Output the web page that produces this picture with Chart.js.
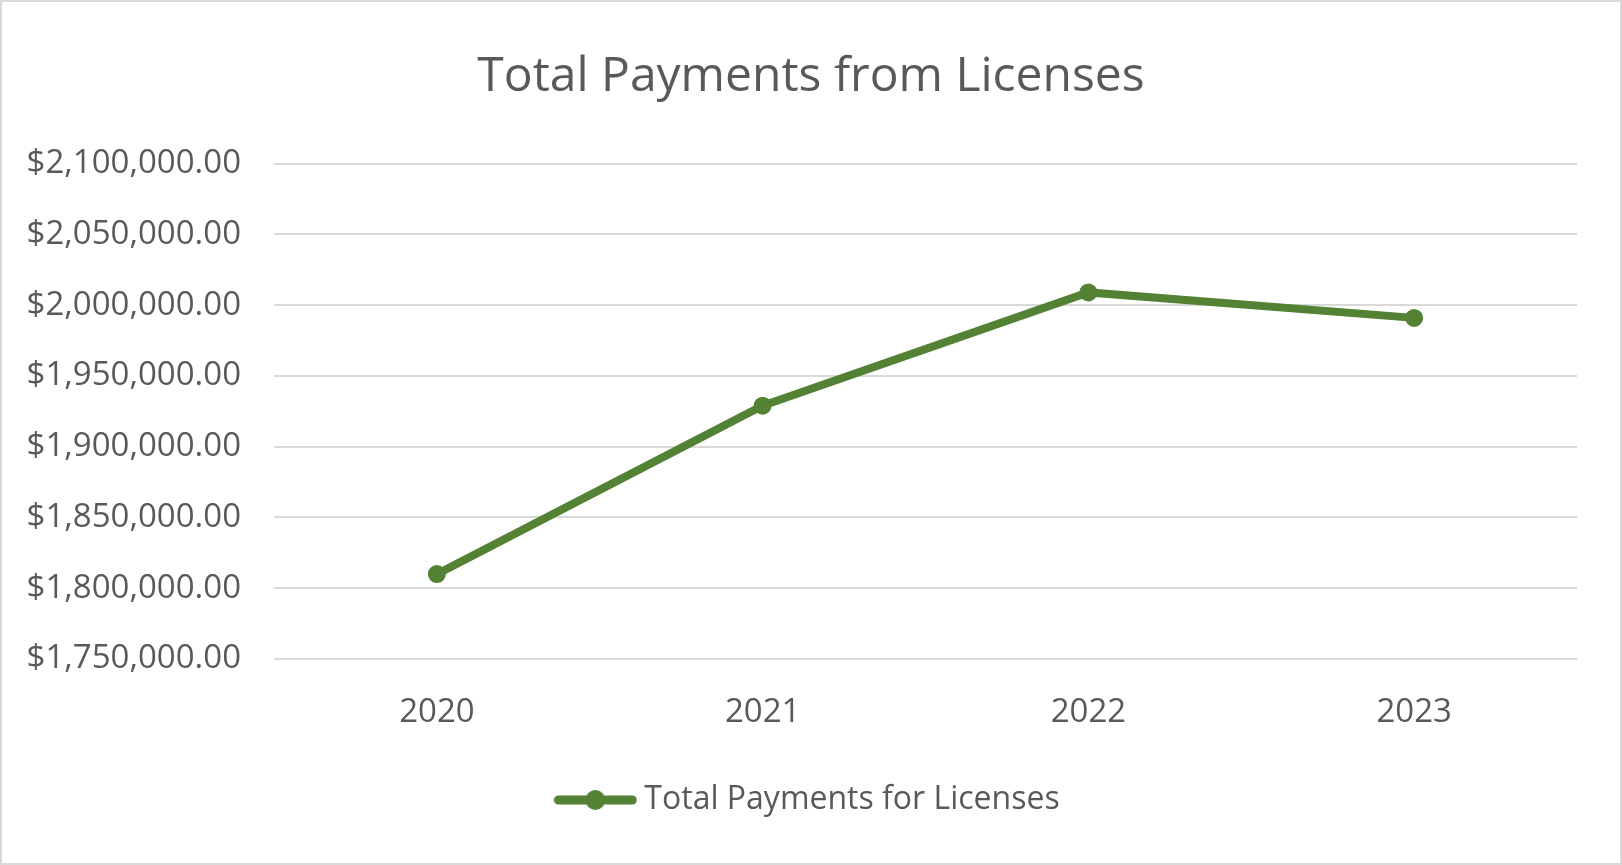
<!DOCTYPE html>
<html>
<head>
<meta charset="utf-8">
<title>Total Payments from Licenses</title>
<script src="https://cdn.jsdelivr.net/npm/chart.js@4/dist/chart.umd.min.js"></script>
<style>
  html, body { margin: 0; padding: 0; background: #fff; }
  #wrap { width: 1622px; height: 865px; }
</style>
</head>
<body>
<div id="wrap"><canvas id="mycanvas" width="1622" height="865"></canvas></div>
<script>
// data
var years = ["2020", "2021", "2022", "2023"];
var payments = [1810000, 1929000, 2009000, 1991000];
var seriesName = "Total Payments for Licenses";
var chartTitle = "Total Payments from Licenses";
var yMin = 1750000, yMax = 2100000, yStep = 50000;

var green = "#548235";
var grey = "#595959";
var font = "'Open Sans', sans-serif";

function money(v) {
	return "$" + Number(v).toLocaleString("en-US", {minimumFractionDigits: 2, maximumFractionDigits: 2});
}

// legend swatch: line with a dot, like excel
var swatch = document.createElement("canvas");
swatch.width = 84;
swatch.height = 22;
var sc = swatch.getContext("2d");
sc.strokeStyle = green;
sc.lineWidth = 9;
sc.lineCap = "round";
sc.beginPath();
sc.moveTo(5, 11);
sc.lineTo(79, 11);
sc.stroke();
sc.fillStyle = green;
sc.beginPath();
sc.arc(42, 11, 10, 0, Math.PI * 2);
sc.fill();

var frame = {
	id: "frame",
	beforeDraw: function(chart) {
		var c = chart.ctx;
		c.save();
		c.fillStyle = "#fff";
		c.fillRect(0, 0, chart.width, chart.height);
		c.restore();
	},
	afterDraw: function(chart) {
		var c = chart.ctx;
		c.save();
		c.strokeStyle = "#d9d9d9";
		c.lineWidth = 2;
		c.strokeRect(1, 1, chart.width - 2, chart.height - 2);
		c.restore();
	}
};

var ctx = document.getElementById("mycanvas");
var lineGraph = new Chart(ctx, {
	type: "line",
	data: {
		labels: years,
		datasets: [{
			label: seriesName,
			data: payments,
			borderColor: green,
			backgroundColor: green,
			borderWidth: 8,
			pointRadius: 8,
			pointBorderWidth: 2,
			pointBackgroundColor: green,
			pointBorderColor: green,
			tension: 0,
			fill: false
		}]
	},
	options: {
		responsive: false,
		animation: false,
		layout: { padding: { left: 0, right: 0, top: 0, bottom: 39 } },
		plugins: {
			title: {
				display: true,
				text: chartTitle,
				color: grey,
				font: { family: font, size: 48, weight: "normal" },
				padding: { top: 49, bottom: 57 }
			},
			legend: {
				display: true,
				position: "bottom",
				labels: {
					color: grey,
					font: { family: font, size: 32 },
					usePointStyle: true,
					pointStyleWidth: 66,
					boxHeight: 22,
					padding: 10,
					generateLabels: function(chart) {
						var items = Chart.defaults.plugins.legend.labels.generateLabels(chart);
						items.forEach(function(it) { it.pointStyle = swatch; });
						return items;
					}
				}
			},
			tooltip: { enabled: false }
		},
		scales: {
			x: {
				offset: true,
				grid: { display: false, drawTicks: false },
				border: { display: false },
				ticks: { color: grey, font: { family: font, size: 33 }, padding: 34 },
				afterFit: function(scale) { scale.height = 115; }
			},
			y: {
				min: yMin,
				max: yMax,
				grid: { color: "#d9d9d9", lineWidth: 2, drawTicks: false },
				border: { display: false },
				ticks: {
					stepSize: yStep,
					color: grey,
					font: { family: font, size: 33 },
					padding: 33,
					callback: function(v) { return money(v); }
				},
				afterFit: function(scale) { scale.width = 274; }
			},
			// empty right margin so the title and legend stay centred on the canvas
			pad: {
				type: "linear",
				position: "right",
				display: true,
				grid: { display: false, drawTicks: false },
				border: { display: false },
				ticks: { display: false },
				afterFit: function(scale) { scale.width = 45; }
			}
		}
	},
	plugins: [frame]
});
</script>
</body>
</html>
